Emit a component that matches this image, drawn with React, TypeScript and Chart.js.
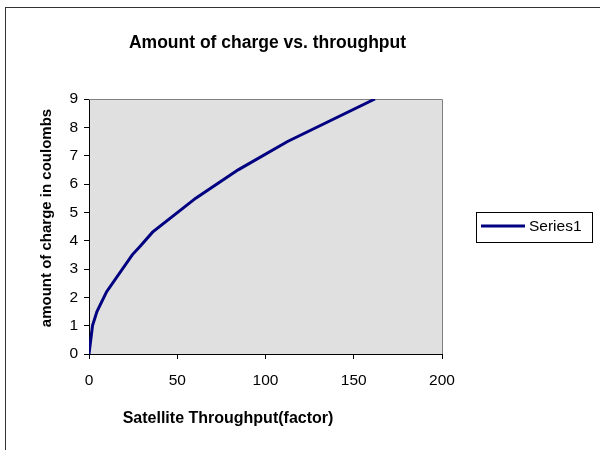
import React, { useEffect, useRef } from "react";
import { Chart, registerables } from "chart.js";

Chart.register(...registerables);

const chartTitle = "Amount of charge vs. throughput";
const xAxisTitle = "Satellite Throughput(factor)";
const yAxisTitle = "amount of charge in coulombs";
const seriesName = "Series1";

const throughput = [0, 2, 4.5, 10, 24.5, 29, 36, 60.5, 84.5, 112.5, 162];
const charge = [0, 1, 1.5, 2.2, 3.5, 3.8, 4.3, 5.5, 6.5, 7.5, 9];

const xMin = 0;
const xMax = 200;
const xStep = 50;
const yMin = 0;
const yMax = 9;
const yStep = 1;

const FONT = "'Liberation Sans', Arial, sans-serif";
const LINE_COLOR = "#000080";

const decorPlugin = {
  id: "decor",
  beforeDraw(chart: any) {
    const { ctx, chartArea, width, height } = chart;
    ctx.save();
    ctx.fillStyle = "#ffffff";
    ctx.fillRect(0, 0, width, height);
    ctx.fillStyle = "#e0e0e0";
    ctx.fillRect(chartArea.left, chartArea.top, chartArea.right - chartArea.left, chartArea.bottom - chartArea.top);
    // outer frame
    ctx.strokeStyle = "#333333";
    ctx.lineWidth = 1;
    ctx.strokeRect(5.5, 7.5, 900, 900);
    ctx.restore();
  },
  beforeDatasetsDraw(chart: any) {
    const { ctx, chartArea } = chart;
    ctx.save();
    ctx.strokeStyle = "#808080";
    ctx.lineWidth = 1;
    ctx.beginPath();
    ctx.moveTo(chartArea.left, chartArea.top + 0.5);
    ctx.lineTo(chartArea.right + 0.5, chartArea.top + 0.5);
    ctx.lineTo(chartArea.right + 0.5, chartArea.bottom);
    ctx.stroke();
    ctx.restore();
  },
  afterDraw(chart: any) {
    const { ctx, chartArea } = chart;
    ctx.save();
    ctx.fillStyle = "#000000";
    // chart title
    ctx.font = `bold 17.5px ${FONT}`;
    ctx.textAlign = "center";
    ctx.textBaseline = "middle";
    ctx.fillText(chartTitle, (chartArea.left + chartArea.right) / 2 + 2, 43);
    // x axis title
    ctx.font = `bold 16px ${FONT}`;
    ctx.fillText(xAxisTitle, 228, 419);
    // y axis title
    ctx.save();
    ctx.translate(47, 218);
    ctx.rotate(-Math.PI / 2);
    ctx.font = `bold 15px ${FONT}`;
    ctx.fillText(yAxisTitle, 0, 0);
    ctx.restore();
    // legend
    ctx.strokeStyle = "#000000";
    ctx.lineWidth = 1;
    ctx.strokeRect(476.5, 212.5, 116, 30);
    ctx.strokeStyle = LINE_COLOR;
    ctx.lineWidth = 3;
    ctx.beginPath();
    ctx.moveTo(481, 226);
    ctx.lineTo(525, 226);
    ctx.stroke();
    ctx.font = `15.5px ${FONT}`;
    ctx.textAlign = "left";
    ctx.fillText(seriesName, 529, 227);
    ctx.restore();
  },
};

export default function App() {
  const canvasRef = useRef<HTMLCanvasElement | null>(null);

  useEffect(() => {
    const canvas = canvasRef.current;
    if (!canvas) return;
    const points = throughput.map((x, i) => ({ x, y: charge[i] }));
    const chart = new Chart(canvas, {
      type: "scatter",
      data: {
        datasets: [
          {
            label: seriesName,
            data: points,
            showLine: true,
            borderColor: LINE_COLOR,
            backgroundColor: LINE_COLOR,
            borderWidth: 3,
            pointRadius: 0,
            tension: 0,
          },
        ],
      },
      options: {
        animation: false,
        responsive: false,
        devicePixelRatio: 1,
        layout: { padding: { left: 0, top: 99, right: 158, bottom: 0 } },
        plugins: {
          legend: { display: false },
          title: { display: false },
          tooltip: { enabled: false },
        },
        scales: {
          x: {
            type: "linear",
            min: xMin,
            max: xMax,
            ticks: {
              stepSize: xStep,
              color: "#000000",
              padding: 12,
              font: { family: FONT, size: 15.5 },
              maxRotation: 0,
            },
            grid: { drawOnChartArea: false, drawTicks: true, tickLength: 5, color: "#000000" },
            border: { display: true, color: "#000000", width: 1 },
            afterFit: (scale: any) => {
              scale.height = 96;
            },
          },
          y: {
            type: "linear",
            min: yMin,
            max: yMax,
            ticks: {
              stepSize: yStep,
              color: "#000000",
              padding: 6,
              font: { family: FONT, size: 15.5 },
            },
            grid: { drawOnChartArea: false, drawTicks: true, tickLength: 5, color: "#000000" },
            border: { display: true, color: "#000000", width: 1 },
            afterFit: (scale: any) => {
              scale.width = 89;
            },
          },
        },
      },
      plugins: [decorPlugin],
    });
    return () => chart.destroy();
  }, []);

  return (
    <div style={{ position: "absolute", left: 0, top: 0, width: 600, height: 450, background: "#fff" }}>
      <canvas ref={canvasRef} width={600} height={450} />
    </div>
  );
}
